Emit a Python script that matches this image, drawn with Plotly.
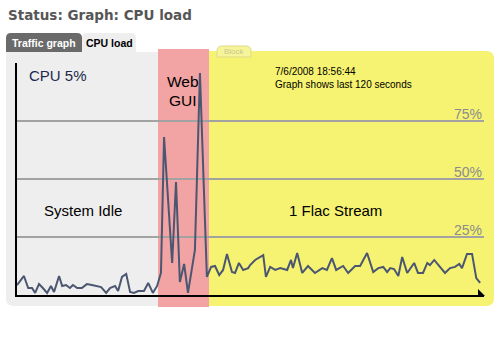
import plotly.graph_objects as go

# ---- data ----
seconds = [0, 1.8, 2.9, 3.9, 4.7, 5.7, 6.7, 7.8, 8.8, 9.6, 10.9, 11.7, 12.7, 13.7, 14.5,
           15.6, 16.8, 18.1, 19.4, 20.7, 21.8, 23.1, 24.1, 25.4, 26.2, 27.2, 28.3, 29.3,
           30.3, 31.4, 32.9, 34.0, 35.2, 36.3, 37.3, 38.1, 40.2, 41.2, 42.2, 43.3, 44.3,
           46.1, 47.4, 49.2, 50.3, 51.3, 52.4, 53.4, 54.4, 55.7, 56.5, 57.5, 58.6, 59.9,
           60.4, 61.7, 63.8, 64.5, 65.6, 66.9, 68.2, 70.0, 71.0, 71.5, 72.6, 73.9, 75.4,
           77.2, 79.1, 80.3, 81.6, 82.7, 84.5, 85.8, 87.6, 88.9, 90.7, 92.3, 93.6, 94.9,
           95.9, 96.7, 97.7, 98.8, 99.8, 101.1, 101.9, 102.9, 103.9, 105.2, 106.3, 107.0,
           108.1, 109.4, 110.9, 112.2, 113.5, 114.6, 115.3, 116.6, 117.9, 119.0, 120.0]
cpu_load = [4.3, 8.2, 3.0, 3.0, 0.9, 4.7, 3.0, 0.9, 3.9, 1.3, 8.2, 3.9, 4.3, 3.0, 4.3,
            3.0, 3.0, 4.7, 4.3, 3.9, 3.4, 0.9, 3.0, 3.9, 1.7, 7.8, 9.1, 1.3,
            0.9, 1.7, 1.7, 5.2, 0.9, 3.9, 9.5, 68.1, 13.8, 48.7, 5.6, 13.4, 0.9,
            19.4, 95.7, 7.8, 12.1, 12.5, 8.6, 10.8, 17.7, 9.9, 9.5, 13.8, 10.8, 11.6,
            12.9, 15.1, 17.2, 7.8, 12.1, 10.8, 11.6, 10.8, 15.1, 11.6, 18.1, 9.5, 12.5,
            9.5, 11.6, 10.8, 15.9, 10.8, 12.5, 9.5, 12.5, 12.5, 18.1, 9.9, 11.6, 12.1,
            9.9, 11.6, 11.2, 8.2, 16.4, 9.5, 11.6, 13.8, 9.5, 9.5, 13.8, 12.9,
            15.1, 12.5, 9.5, 11.6, 12.1, 13.4, 11.6, 17.7, 17.7, 7.3, 5.2]
grid_levels = [25, 50, 75]
grid_labels = ["25%", "50%", "75%"]

W, H = 500, 354


def px(x):
    return x / W


def py(y):
    return 1 - y / H


def pth(points):
    s = "M " + " L ".join(f"{px(x):.5f},{py(y):.5f}" for x, y in points) + " Z"
    return s


def rrect(x0, y0, x1, y1, rtl=0, rtr=0, rbr=0, rbl=0):
    # rounded rectangle path in pixel coords -> paper coords
    def P(x, y):
        return f"{px(x):.5f},{py(y):.5f}"
    d = f"M {P(x0 + rtl, y0)} L {P(x1 - rtr, y0)} "
    if rtr:
        d += f"Q {P(x1, y0)} {P(x1, y0 + rtr)} "
    d += f"L {P(x1, y1 - rbr)} "
    if rbr:
        d += f"Q {P(x1, y1)} {P(x1 - rbr, y1)} "
    d += f"L {P(x0 + rbl, y1)} "
    if rbl:
        d += f"Q {P(x0, y1)} {P(x0, y1 - rbl)} "
    d += f"L {P(x0, y0 + rtl)} "
    if rtl:
        d += f"Q {P(x0, y0)} {P(x0 + rtl, y0)} "
    return d + "Z"


shapes = []


def add_path(d, fill, line_color=None, line_width=0, layer="below"):
    shapes.append(dict(type="path", path=d, xref="paper", yref="paper",
                       fillcolor=fill, layer=layer,
                       line=dict(color=line_color or fill, width=line_width)))


# tabs
add_path(rrect(6, 33, 82, 52, rtl=5, rtr=5), "#6a6a6a")
add_path(rrect(82, 33, 136, 52, rtl=5, rtr=5), "#eeeeee")
# panels
add_path(rrect(6, 52, 160, 306, rbl=7), "#eeeeee")
add_path(rrect(158, 49, 209, 307), "#f2a3a3")
add_path(rrect(209, 51, 494, 306, rtr=8, rbr=8), "#f6f372")
# "Block" small tab
add_path(rrect(217, 46, 251, 57, rtl=5, rtr=5), "#f7f59a", line_color="#dedb86", line_width=1)
# arrow head at end of x axis
add_path(pth([(478, 289), (485, 296), (478, 296)]), "#000000", layer="above")

fig = go.Figure()
fig.add_trace(go.Scatter(x=seconds, y=cpu_load, mode="lines",
                         line=dict(color="#4b5671", width=2), hoverinfo="skip",
                         showlegend=False))

annotations = []
for lvl, lab in zip(grid_levels, grid_labels):
    annotations.append(dict(x=121, y=lvl, xref="x", yref="y", text=lab, showarrow=False,
                            xanchor="right", yanchor="bottom", yshift=-3,
                            font=dict(family="Liberation Sans", size=14, color="#8c8c8c")))


def txt(x, y, s, size, color="#000000", family="Liberation Sans", xanchor="center", bold=False):
    if bold:
        s = f"<b>{s}</b>"
    annotations.append(dict(x=px(x), y=py(y), xref="paper", yref="paper", text=s,
                            showarrow=False, xanchor=xanchor, yanchor="middle",
                            font=dict(family=family, size=size, color=color)))


txt(6, 15, "Status: Graph: CPU load", 13.5, "#565656", "DejaVu Sans", "left", bold=True)
txt(44, 43, "Traffic graph", 10.5, "#ffffff", "Liberation Sans", bold=True)
txt(109, 43, "CPU load", 10.5, "#000000", "Liberation Sans", bold=True)
txt(234, 52, "Block", 8, "#c9c58c", "Liberation Sans")
txt(27, 75, "CPU 5%", 15, "#1c2a4c", "Liberation Sans", "left")
txt(183, 82, "Web", 15.5)
txt(183, 100, "GUI", 15.5)
txt(83, 210, "System Idle", 15)
txt(335, 210, "1 Flac Stream", 15)
txt(273, 71, "7/6/2008 18:56:44", 10, "#000000", "Liberation Sans", "left")
txt(273, 85, "Graph shows last 120 seconds", 10, "#000000", "Liberation Sans", "left")

fig.update_layout(
    width=W, height=H, margin=dict(l=0, r=0, t=0, b=0),
    paper_bgcolor="#ffffff", plot_bgcolor="rgba(0,0,0,0)",
    shapes=shapes, annotations=annotations, showlegend=False,
    xaxis=dict(domain=[px(17), px(484)], range=[0, 121], showgrid=False, zeroline=False,
               showticklabels=False, ticks="", showline=True, linecolor="#000000",
               linewidth=1.5, fixedrange=True),
    yaxis=dict(domain=[py(295), py(63)], range=[0, 100], tickvals=grid_levels,
               showgrid=True, gridcolor="#a2a2a2", gridwidth=2, zeroline=False,
               showticklabels=False, ticks="", showline=True, linecolor="#000000",
               linewidth=1.5, fixedrange=True),
)

fig.write_html("out.html")
